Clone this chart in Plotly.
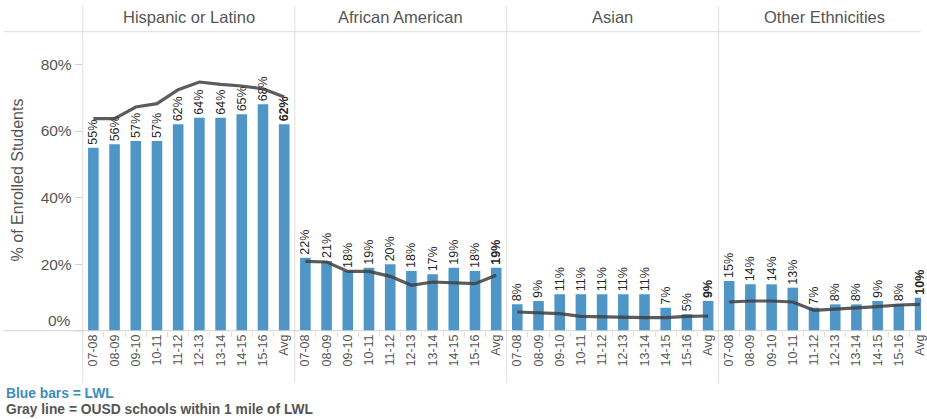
import plotly.graph_objects as go

# School years plus the multi-year average
years = ["07-08", "08-09", "09-10", "10-11", "11-12", "12-13", "13-14", "14-15", "15-16", "Avg"]

groups = ["Hispanic or Latino", "African American", "Asian", "Other Ethnicities"]

# LWL enrollment share (%) by group
lwl_hispanic = [55, 56, 57, 57, 62, 64, 64, 65, 68, 62]
lwl_african_american = [22, 21, 18, 19, 20, 18, 17, 19, 18, 19]
lwl_asian = [8, 9, 11, 11, 11, 11, 11, 7, 5, 9]
lwl_other = [15, 14, 14, 13, 7, 8, 8, 9, 8, 10]

# OUSD schools within 1 mile of LWL, enrollment share (%)
ousd_hispanic = [63.7, 63.7, 67.2, 68.2, 72.4, 74.7, 74.0, 73.5, 72.7, 70.2]
ousd_african_american = [20.9, 20.7, 17.9, 17.9, 16.4, 13.7, 14.7, 14.4, 14.2, 16.7]
ousd_asian = [5.7, 5.5, 5.2, 4.4, 4.2, 4.2, 4.0, 4.0, 4.4, 4.5]
ousd_other = [8.7, 9.0, 9.0, 8.7, 6.2, 6.5, 6.8, 7.3, 7.8, 8.0]

y_tick_vals = [0, 20, 40, 60, 80]
y_tick_text = ["0%", "20%", "40%", "60%", "80%"]

lwl_series = [lwl_hispanic, lwl_african_american, lwl_asian, lwl_other]
ousd_series = [ousd_hispanic, ousd_african_american, ousd_asian, ousd_other]

W, H = 927, 419
TOP, BOTTOM = 32, 331          # plot area in pixels
PX_PER_PCT = 3.333
FONT = "Arial, Liberation Sans, sans-serif"
BAR_COLOR = "#4f96c7"
GRID = "#dedede"
TEXT = "#555555"

panel_edges = [83.3, 296.7, 510.0, 723.3, 936.6]   # last panel runs past the page edge


def px_x(p):
    return p / W


def px_y(p):
    return (BOTTOM - p) / (BOTTOM - TOP)


fig = go.Figure()

slot = (panel_edges[1] - panel_edges[0]) / len(years)
for i, (grp, bars, line) in enumerate(zip(groups, lwl_series, ousd_series)):
    ax = "x" if i == 0 else f"x{i + 1}"
    labels = [f"{v}%" for v in bars]
    labels[-1] = f"<b>{labels[-1]}</b>"
    fig.add_trace(go.Bar(
        x=years, y=bars, xaxis=ax, yaxis="y",
        width=0.5, marker=dict(color=BAR_COLOR, line=dict(width=0)),
        text=labels, texttemplate="%{text}", textposition="outside",
        textangle=-90, constraintext="none", cliponaxis=False,
        outsidetextfont=dict(family=FONT, size=12.5, color="#262626"),
        hoverinfo="skip",
    ))
    fig.add_trace(go.Scatter(
        x=years, y=line, xaxis=ax, yaxis="y", mode="lines",
        line=dict(color="rgba(64,64,64,0.85)", width=3.2),
        hoverinfo="skip",
    ))

    left = panel_edges[i]
    right = min(panel_edges[i + 1], W)
    visible_slots = (right - left) / slot
    axis_cfg = dict(
        domain=[px_x(left), px_x(right)],
        type="category", categoryorder="array", categoryarray=years,
        range=[-0.5, -0.5 + visible_slots],
        anchor="y", showgrid=False, zeroline=False, showline=False,
        ticks="outside", tickson="boundaries", ticklen=5, tickcolor=GRID,
        tickangle=-90, tickfont=dict(family=FONT, size=12.5, color=TEXT),
        fixedrange=True,
    )
    fig.update_layout(**{("xaxis" if i == 0 else f"xaxis{i + 1}"): axis_cfg})

    # panel header
    fig.add_annotation(
        x=px_x((panel_edges[i] + panel_edges[i + 1]) / 2), y=px_y(17),
        xref="paper", yref="paper", text=grp, showarrow=False,
        font=dict(family=FONT, size=16.5, color=TEXT),
        xanchor="center", yanchor="middle",
    )

fig.update_layout(
    yaxis=dict(
        range=[0, (BOTTOM - TOP) / PX_PER_PCT], anchor="x",
        tickvals=y_tick_vals[1:], ticktext=y_tick_text[1:],
        ticks="outside", ticklen=7, tickcolor="#cfcfcf",
        tickfont=dict(family=FONT, size=15.5, color=TEXT),
        showgrid=False, zeroline=False, showline=False, fixedrange=True,
    ),
)

# the 0% label sits just above the baseline
fig.add_annotation(
    x=px_x(73), y=px_y(320), xref="paper", yref="paper",
    text=y_tick_text[0], showarrow=False, xanchor="right", yanchor="middle",
    font=dict(family=FONT, size=15.5, color=TEXT),
)
fig.add_shape(type="line", xref="paper", yref="paper",
              x0=px_x(76), x1=px_x(83.3), y0=0, y1=0,
              line=dict(color="#cfcfcf", width=1))

# axis title
fig.add_annotation(
    x=px_x(17.5), y=px_y(180), xref="paper", yref="paper",
    text="% of Enrolled Students", textangle=-90, showarrow=False,
    font=dict(family=FONT, size=16, color=TEXT),
    xanchor="center", yanchor="middle",
)

# panel separators and header / baseline rules
for edge in panel_edges[:4]:
    fig.add_shape(type="line", xref="paper", yref="paper",
                  x0=px_x(edge), x1=px_x(edge), y0=px_y(6), y1=px_y(383),
                  line=dict(color=GRID, width=1))
for yy, col in [(31.7, GRID), (330.7, "#d2d2d2")]:
    fig.add_shape(type="line", xref="paper", yref="paper",
                  x0=px_x(4), x1=1, y0=px_y(yy), y1=px_y(yy),
                  line=dict(color=col, width=1))

# key
fig.add_annotation(
    x=px_x(4), y=px_y(393), xref="paper", yref="paper",
    text="<b>Blue bars = LWL</b>", showarrow=False,
    xanchor="left", yanchor="middle",
    font=dict(family=FONT, size=13.8, color="#3d8dba"),
)
fig.add_annotation(
    x=px_x(4), y=px_y(409), xref="paper", yref="paper",
    text="<b>Gray line = OUSD schools within 1 mile of LWL</b>", showarrow=False,
    xanchor="left", yanchor="middle",
    font=dict(family=FONT, size=13.8, color=TEXT),
)

fig.update_layout(
    width=W, height=H,
    margin=dict(l=0, r=0, t=TOP, b=H - BOTTOM, pad=0),
    paper_bgcolor="white", plot_bgcolor="white",
    showlegend=False,
)

fig.write_html("out.html", config={"displayModeBar": False})
